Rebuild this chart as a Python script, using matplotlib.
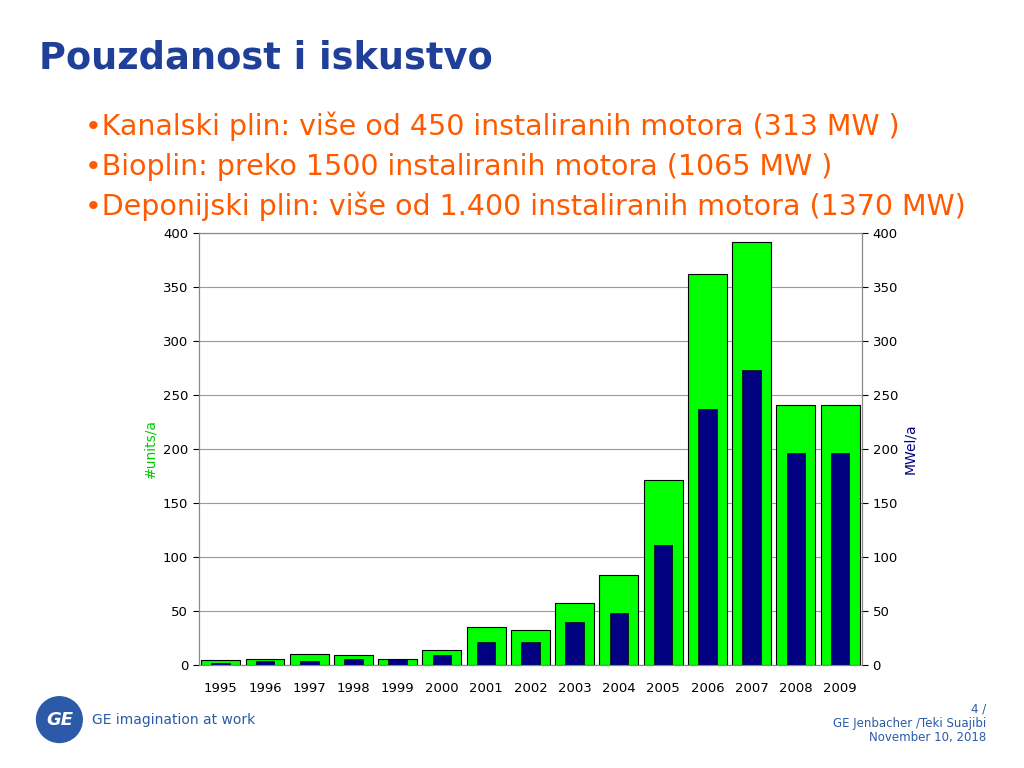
import numpy as np
import matplotlib.pyplot as plt
from matplotlib.patches import Ellipse

years = ['1995', '1996', '1997', '1998', '1999', '2000', '2001', '2002',
         '2003', '2004', '2005', '2006', '2007', '2008', '2009']
units = [5, 6, 10, 9, 6, 14, 35, 32, 57, 83, 171, 362, 391, 241, 241]
mwel = [2, 4, 4, 6, 6, 9, 21, 21, 40, 48, 111, 237, 273, 196, 196]
bullets = [
    "•Kanalski plin: više od 450 instaliranih motora (313 MW )",
    "•Bioplin: preko 1500 instaliranih motora (1065 MW )",
    "•Deponijski plin: više od 1.400 instaliranih motora (1370 MW)",
]

fig = plt.figure(figsize=(10.24, 7.68), dpi=100)
fig.text(0.038, 0.925, "Pouzdanost i iskustvo", fontsize=26.5, fontweight='bold',
         color='#1f3f99', family='DejaVu Sans', va='center')
for i, b in enumerate(bullets):
    fig.text(0.083, 0.835 - i * 0.052, b, fontsize=20.5, color='#ff5a00',
             family='DejaVu Sans', va='center')

ax = fig.add_axes([0.194, 0.134, 0.648, 0.563])
x = np.arange(len(years))
ax.bar(x, units, width=0.88, color='#00ff00', edgecolor='black', linewidth=0.8, zorder=2)
ax.bar(x, mwel, width=0.42, color='#000080', edgecolor='black', linewidth=0.5, zorder=3)
ax.set_xlim(-0.5, len(years) - 0.5)
ax.set_ylim(0, 400)
ax.set_yticks(range(0, 401, 50))
ax.set_xticks(x)
ax.set_xticklabels(years, fontsize=9.5)
ax.tick_params(axis='y', labelsize=9.5, length=4)
ax.tick_params(axis='x', length=0, pad=12)
ax.grid(axis='y', color='#999999', linewidth=0.8, zorder=0)
ax.set_ylabel('#units/a', color='#00cc00', fontsize=10)
ax2 = ax.twinx()
ax2.set_ylim(0, 400)
ax2.set_yticks(range(0, 401, 50))
ax2.tick_params(axis='y', labelsize=9.5, length=4)
ax2.set_ylabel('MWel/a', color='#000080', fontsize=10)
for a in (ax, ax2):
    for s in a.spines.values():
        s.set_color('#888888')

# footer
fig.patches.append(Ellipse((0.058, 0.063), 0.046, 0.046 * 1024 / 768,
                           transform=fig.transFigure,
                           facecolor='#2a5aa8', edgecolor='none'))
fig.text(0.058, 0.063, "GE", color='white', fontsize=13, style='italic',
         ha='center', va='center', fontweight='bold')
fig.text(0.09, 0.063, "GE imagination at work", color='#2a5aa8', fontsize=10, va='center')
fig.text(0.963, 0.058, "4 /\nGE Jenbacher /Teki Suajibi\nNovember 10, 2018",
         color='#2a5aa8', fontsize=8.5, ha='right', va='center', linespacing=1.1)

fig.savefig('out.png', dpi=100)
